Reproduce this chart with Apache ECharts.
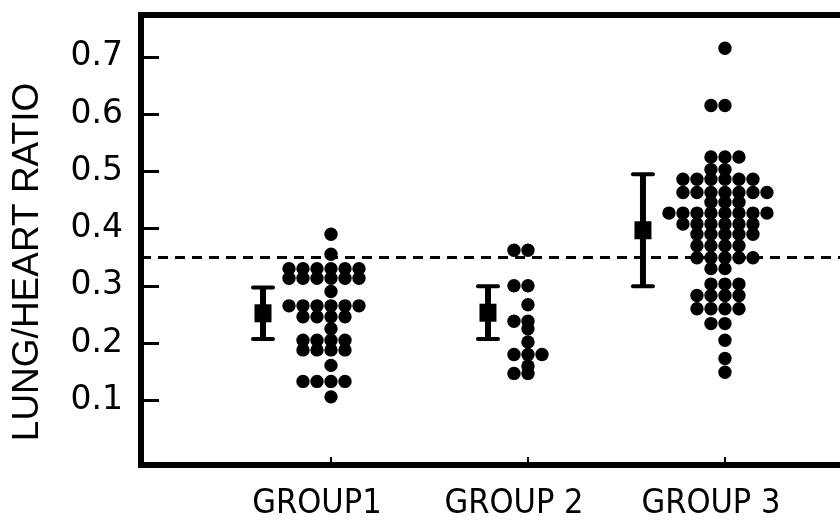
<!DOCTYPE html>
<html>
<head>
<meta charset="utf-8">
<script src="https://cdn.jsdelivr.net/npm/echarts@6/dist/echarts.min.js"></script>
<style>
  html, body { margin: 0; padding: 0; background: #fff; }
  #main { width: 840px; height: 521px; }
</style>
</head>
<body>
<div id="main"></div>
<script>
  // data
  var groupNames = ['GROUP1', 'GROUP 2', 'GROUP 3'];
  var groupTicks = [1, 2, 3];
  var yTicks = [0.1, 0.2, 0.3, 0.4, 0.5, 0.6, 0.7];

  var group1Values = [0.39, 0.355,
    0.33, 0.33, 0.33, 0.33, 0.33, 0.33,
    0.313, 0.313, 0.313, 0.313, 0.313, 0.313,
    0.29,
    0.265, 0.265, 0.265, 0.265, 0.265, 0.265,
    0.246, 0.246, 0.246, 0.246,
    0.225,
    0.205, 0.205, 0.205, 0.205,
    0.188, 0.188, 0.188, 0.188,
    0.161,
    0.133, 0.133, 0.133, 0.133,
    0.106];
  var group2Values = [0.362, 0.362, 0.30, 0.30, 0.267, 0.238, 0.238, 0.225, 0.202,
    0.18, 0.18, 0.18, 0.16, 0.147, 0.147];
  var group3Values = [0.715, 0.615, 0.615,
    0.525, 0.525, 0.525,
    0.503, 0.503,
    0.486, 0.486, 0.486, 0.486, 0.486, 0.486,
    0.463, 0.463, 0.463, 0.463, 0.463, 0.463, 0.463,
    0.446, 0.446, 0.446,
    0.427, 0.427, 0.427, 0.427, 0.427, 0.427, 0.427, 0.427,
    0.408, 0.408, 0.408, 0.408, 0.408, 0.408,
    0.39, 0.39, 0.39, 0.39, 0.39,
    0.37, 0.37, 0.37, 0.37,
    0.349, 0.349, 0.349, 0.349, 0.349,
    0.33, 0.33,
    0.303, 0.303, 0.303,
    0.283, 0.283, 0.283, 0.283,
    0.26, 0.26, 0.26, 0.26,
    0.234, 0.234,
    0.205, 0.173, 0.149];

  var groupMeans = [0.252, 0.253, 0.397];
  var groupSDs = [0.045, 0.046, 0.098];
  var referenceLine = 0.346;

  var COL = 14;      // px between swarm columns
  var BAR_GAP = 26;  // px from left-most dot to the error bar

  // equal values sit side by side in one row
  function swarm(values, g) {
    var counts = {}, seen = {};
    values.forEach(function (v) { counts[v] = (counts[v] || 0) + 1; });
    return values.map(function (v) {
      var n = counts[v], i = seen[v] || 0;
      seen[v] = i + 1;
      return [g, v, i - Math.floor(n / 2)];
    });
  }

  var dotData = [];
  var barData = [];
  [group1Values, group2Values, group3Values].forEach(function (vals, k) {
    var pts = swarm(vals, groupTicks[k]);
    var minSlot = 0;
    pts.forEach(function (p) { minSlot = Math.min(minSlot, p[2]); });
    dotData = dotData.concat(pts);
    barData.push([groupTicks[k], groupMeans[k], groupSDs[k], minSlot]);
  });

  var chart = echarts.init(document.getElementById('main'));

  var frameLine = { color: '#000', width: 6, cap: 'square' };

  var option = {
    animation: false,
    grid: { left: 141, top: 15, right: 0, bottom: 54 },  // frame is cut at the right edge
    xAxis: [{
      type: 'value',
      min: 0.0355,
      max: 3.584,
      splitLine: { show: false },
      axisLine: { show: true, onZero: false, lineStyle: frameLine },
      axisTick: {
        show: true, inside: true, length: 8, customValues: groupTicks,
        lineStyle: { color: '#000', width: 2 }
      },
      axisLabel: {
        customValues: groupTicks,
        margin: 22,
        padding: [0, 28, 0, 0],
        color: '#000',
        fontSize: 34,
        fontFamily: '"DejaVu Sans Condensed", "Liberation Sans Narrow", "Liberation Sans", sans-serif',
        formatter: function (v) { return groupNames[Math.round(v) - 1]; }
      }
    }, {
      // top side of the frame
      type: 'value',
      position: 'top',
      min: 0.0355,
      max: 3.584,
      splitLine: { show: false },
      axisLine: { show: true, onZero: false, lineStyle: frameLine },
      axisTick: { show: false },
      axisLabel: { show: false }
    }],
    yAxis: {
      type: 'value',
      min: -0.013,
      max: 0.773,
      splitLine: { show: false },
      axisLine: { show: true, onZero: false, lineStyle: frameLine },
      axisTick: {
        show: true, inside: true, length: 18, customValues: yTicks,
        lineStyle: { color: '#000', width: 3 }
      },
      axisLabel: {
        customValues: yTicks,
        margin: 18,
        color: '#000',
        fontSize: 33,
        fontFamily: '"DejaVu Sans", sans-serif',
        formatter: function (v) { return v.toFixed(1); }
      }
    },
    graphic: [{
      type: 'text',
      x: 28, y: 262,
      rotation: Math.PI / 2,
      style: {
        text: 'LUNG/HEART RATIO',
        fill: '#000',
        font: '37px "Liberation Sans", Arial, sans-serif',
        textAlign: 'center',
        textVerticalAlign: 'middle'
      }
    }],
    series: [{
      type: 'custom',
      name: 'dots',
      data: dotData,
      encode: { x: 0, y: 1 },
      renderItem: function (params, api) {
        var p = api.coord([api.value(0), api.value(1)]);
        return {
          type: 'circle',
          shape: { cx: p[0] + api.value(2) * COL, cy: p[1], r: 6.7 },
          style: { fill: '#000' }
        };
      },
      markLine: {
        silent: true,
        symbol: 'none',
        label: { show: false },
        lineStyle: { color: '#000', width: 3, type: [10, 7] },
        data: [{ yAxis: referenceLine }]
      }
    }, {
      type: 'custom',
      name: 'mean',
      data: barData,
      encode: { x: 0, y: 1 },
      renderItem: function (params, api) {
        var g = api.value(0), m = api.value(1), sd = api.value(2);
        var c = api.coord([g, m]);
        var top = api.coord([g, m + sd])[1];
        var bot = api.coord([g, m - sd])[1];
        var x = c[0] + api.value(3) * COL - BAR_GAP;
        var st = { fill: '#000' };
        return {
          type: 'group',
          children: [
            { type: 'rect', shape: { x: x - 3, y: top, width: 6, height: bot - top }, style: st },
            { type: 'rect', shape: { x: x - 12, y: top - 2, width: 24, height: 4, r: 2 }, style: st },
            { type: 'rect', shape: { x: x - 12, y: bot - 2, width: 24, height: 4, r: 2 }, style: st },
            { type: 'rect', shape: { x: x - 8.5, y: c[1] - 9, width: 17, height: 18 }, style: st }
          ]
        };
      }
    }]
  };

  option && chart.setOption(option);
</script>
</body>
</html>
